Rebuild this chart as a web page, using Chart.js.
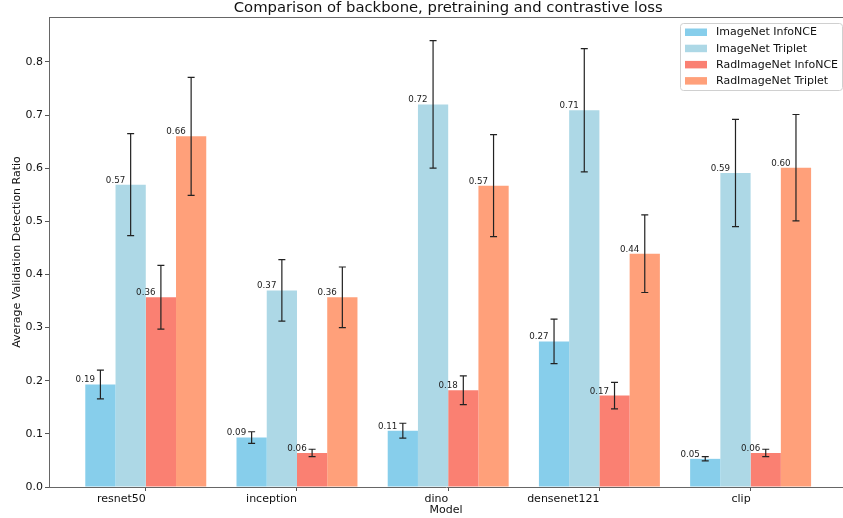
<!DOCTYPE html>
<html>
<head>
<meta charset="utf-8">
<script src="https://cdn.jsdelivr.net/npm/chart.js@4.4.1/dist/chart.umd.min.js"></script>
<style>
  html, body { margin: 0; padding: 0; background: #fff; overflow: hidden; }
  canvas { display: block; }
</style>
</head>
<body>
<canvas id="c" width="843" height="518"></canvas>
<script>
// Models on the x axis
const categories = ['resnet50', 'inception', 'dino', 'densenet121', 'clip'];

// Mean validation detection ratio per model, and its spread (error bar half-length)
const imagenetInfoNCE    = [0.193, 0.093, 0.106, 0.274, 0.053];
const imagenetInfoNCEErr = [0.027, 0.011, 0.014, 0.042, 0.004];
const imagenetTriplet    = [0.569, 0.370, 0.720, 0.709, 0.591];
const imagenetTripletErr = [0.096, 0.058, 0.120, 0.116, 0.101];
const radInfoNCE         = [0.357, 0.064, 0.182, 0.172, 0.064];
const radInfoNCEErr      = [0.060, 0.007, 0.027, 0.025, 0.007];
const radTriplet         = [0.660, 0.357, 0.567, 0.439, 0.601];
const radTripletErr      = [0.111, 0.057, 0.096, 0.073, 0.100];

const seriesLabels = ['ImageNet InfoNCE', 'ImageNet Triplet', 'RadImageNet InfoNCE', 'RadImageNet Triplet'];
const seriesColors = ['#87CEEB', '#ADD8E6', '#FA8072', '#FFA07A'];
const seriesValues = [imagenetInfoNCE, imagenetTriplet, radInfoNCE, radTriplet];
const seriesErrors = [imagenetInfoNCEErr, imagenetTripletErr, radInfoNCEErr, radTripletErr];

const FONT = 'DejaVu Sans';

const datasets = seriesLabels.map((label, s) => ({
  label,
  data: seriesValues[s].map((v, i) => ({ x: i, y: v })),
  errors: seriesErrors[s],
  backgroundColor: seriesColors[s],
  borderWidth: 0,
  categoryPercentage: 0.8,
  barPercentage: 1.0
}));

// Error bars, value labels, frame, title and legend
const decorations = {
  id: 'decorations',
  afterDatasetsDraw(chart) {
    const ctx = chart.ctx;
    const y = chart.scales.y;
    chart.data.datasets.forEach((ds, s) => {
      const meta = chart.getDatasetMeta(s);
      meta.data.forEach((bar, i) => {
        const v = ds.data[i].y;
        const e = ds.errors[i];
        const yTop = y.getPixelForValue(v + e);
        const yBot = y.getPixelForValue(v - e);
        ctx.save();
        ctx.strokeStyle = '#222';
        ctx.lineWidth = 1.2;
        ctx.beginPath();
        ctx.moveTo(bar.x, yTop); ctx.lineTo(bar.x, yBot);
        ctx.moveTo(bar.x - 3.5, yTop); ctx.lineTo(bar.x + 3.5, yTop);
        ctx.moveTo(bar.x - 3.5, yBot); ctx.lineTo(bar.x + 3.5, yBot);
        ctx.stroke();
        ctx.restore();
      });
    });
    chart.data.datasets.forEach((ds, s) => {
      const meta = chart.getDatasetMeta(s);
      meta.data.forEach((bar, i) => {
        const v = ds.data[i].y;
        ctx.save();
        ctx.font = '8.7px "' + FONT + '"';
        ctx.fillStyle = '#222';
        ctx.textAlign = 'center';
        ctx.textBaseline = 'bottom';
        ctx.fillText(v.toFixed(2), bar.x - bar.width / 2, bar.y);
        ctx.restore();
      });
    });
  },
  afterDraw(chart) {
    const ctx = chart.ctx;
    const a = chart.chartArea;
    const x = chart.scales.x;
    ctx.save();
    // top spine
    ctx.strokeStyle = '#666';
    ctx.lineWidth = 1;
    ctx.beginPath();
    ctx.moveTo(a.left, a.top + 0.5);
    ctx.lineTo(a.right, a.top + 0.5);
    ctx.stroke();

    // title centred on the full axis span
    const axisRight = x.getPixelForValue(4.64);
    ctx.font = '14.8px "' + FONT + '"';
    ctx.fillStyle = '#111';
    ctx.textAlign = 'center';
    ctx.textBaseline = 'middle';
    ctx.fillText('Comparison of backbone, pretraining and contrastive loss', (a.left + axisRight) / 2, 8.5);

    // legend box
    const lx = 680, ly = 23, lw = 162, lh = 67;
    ctx.beginPath();
    ctx.roundRect(lx + 0.5, ly + 0.5, lw, lh, 3);
    ctx.fillStyle = 'rgba(255,255,255,0.8)';
    ctx.fill();
    ctx.strokeStyle = '#d0d0d0';
    ctx.stroke();
    ctx.font = '11px "' + FONT + '"';
    ctx.textAlign = 'left';
    ctx.textBaseline = 'middle';
    seriesLabels.forEach((lab, k) => {
      const ry = 32 + k * 16.2;
      ctx.fillStyle = seriesColors[k];
      ctx.fillRect(685, ry - 3.5, 22, 7.5);
      ctx.fillStyle = '#111';
      ctx.fillText(lab, 716, ry + 0.5);
    });
    ctx.restore();
  }
};

new Chart(document.getElementById('c'), {
  type: 'bar',
  data: { datasets },
  options: {
    responsive: false,
    animation: false,
    devicePixelRatio: 1,
    layout: { padding: { top: 17, right: 0, bottom: 0, left: 0 } },
    plugins: {
      legend: { display: false },
      tooltip: { enabled: false },
      title: { display: false }
    },
    scales: {
      x: {
        type: 'linear',
        min: -0.64,
        max: 4.611,
        offset: false,
        afterBuildTicks: s => { s.ticks = categories.map((_, i) => ({ value: i })); },
        afterFit: s => { s.height = 31; },
        ticks: {
          autoSkip: false,
          maxRotation: 0,
          align: 'end',
          padding: 2,
          color: '#111',
          font: { family: FONT, size: 11 },
          callback: v => categories[v] !== undefined ? categories[v] : ''
        },
        grid: { display: true, offset: false, drawOnChartArea: false, drawTicks: true, tickLength: 4, color: '#555' },
        border: { display: true, color: '#666', width: 1 },
        title: {
          display: true,
          text: 'Model',
          color: '#111',
          font: { family: FONT, size: 11 },
          padding: { top: 0, bottom: 1.5 }
        }
      },
      y: {
        min: 0,
        max: 0.8845,
        afterFit: s => { s.width = 49; },
        ticks: {
          stepSize: 0.1,
          includeBounds: false,
          padding: 2,
          color: '#111',
          font: { family: FONT, size: 11 },
          callback: v => v.toFixed(1)
        },
        grid: { display: true, drawOnChartArea: false, drawTicks: true, tickLength: 4, color: '#555' },
        border: { display: true, color: '#666', width: 1 },
        title: {
          display: true,
          text: 'Average Validation Detection Ratio',
          color: '#111',
          font: { family: FONT, size: 11 },
          padding: { top: 11, bottom: 0 }
        }
      }
    }
  },
  plugins: [decorations]
});
</script>
</body>
</html>
